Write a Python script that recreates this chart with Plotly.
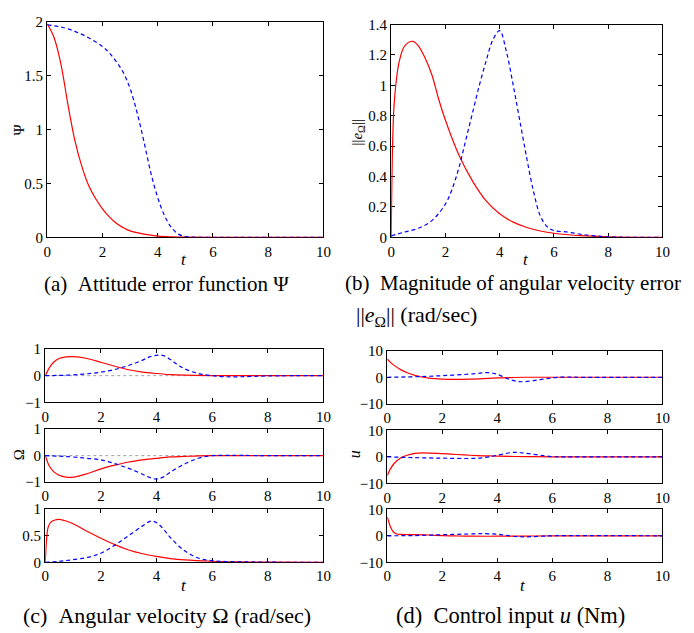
import plotly.graph_objects as go

W, H = 694, 633

# ---------------- data ----------------
# (a) attitude error function Psi
psi_red_t = [0, 0.25, 0.5, 0.75, 1.0, 1.25, 1.5, 1.75, 2.0, 2.25, 2.5, 2.75, 3.0, 3.5, 4.0, 4.5, 5.0, 6.0, 8.0, 10.0]
psi_red_v = [1.98, 1.85, 1.60, 1.23, 0.90, 0.66, 0.48, 0.36, 0.265, 0.19, 0.13, 0.09, 0.06, 0.03, 0.012, 0.005, 0.002, 0, 0, 0]
psi_blue_t = [0, 0.5, 1.0, 1.5, 2.0, 2.25, 2.5, 2.75, 3.0, 3.25, 3.5, 3.75, 4.0, 4.25, 4.5, 4.75, 5.0, 5.5, 6.0, 8.0, 10.0]
psi_blue_v = [1.97, 1.95, 1.91, 1.85, 1.77, 1.71, 1.63, 1.53, 1.38, 1.16, 0.89, 0.60, 0.37, 0.20, 0.09, 0.03, 0.008, 0, 0, 0, 0]

# (b) magnitude of angular velocity error
eo_red_t = [0, 0.05, 0.1, 0.2, 0.3, 0.5, 0.8, 1.0, 1.25, 1.5, 1.75, 2.0, 2.5, 3.0, 3.5, 4.0, 4.5, 5.0, 5.5, 6.0, 7.0, 8.0, 10.0]
eo_red_v = [0, 0.6, 0.85, 1.05, 1.16, 1.26, 1.29, 1.26, 1.18, 1.07, 0.91, 0.77, 0.54, 0.37, 0.24, 0.155, 0.10, 0.065, 0.042, 0.027, 0.011, 0.004, 0]
eo_blue_t = [0, 0.5, 1.0, 1.5, 2.0, 2.25, 2.5, 2.75, 3.0, 3.25, 3.5, 3.75, 4.0, 4.25, 4.5, 4.75, 5.0, 5.25, 5.5, 5.75, 6.0, 6.5, 7.0, 7.5, 8.0, 10.0]
eo_blue_v = [0.01, 0.035, 0.06, 0.11, 0.22, 0.32, 0.46, 0.64, 0.82, 1.0, 1.16, 1.30, 1.36, 1.22, 1.0, 0.76, 0.52, 0.30, 0.14, 0.07, 0.045, 0.035, 0.02, 0.01, 0.003, 0]

# (c) angular velocity components
w1_red_t = [0, 0.15, 0.3, 0.5, 0.75, 1.0, 1.5, 2.0, 2.5, 3.0, 3.5, 4.0, 4.5, 5.0, 6.0, 7.0, 10.0]
w1_red_v = [0, 0.3, 0.5, 0.64, 0.70, 0.71, 0.64, 0.50, 0.35, 0.22, 0.13, 0.08, 0.04, 0.02, 0.005, 0, 0]
w1_blue_t = [0, 0.5, 1.0, 1.5, 2.0, 2.5, 3.0, 3.5, 3.75, 4.0, 4.25, 4.5, 4.75, 5.0, 5.5, 6.0, 6.5, 7.0, 8.0, 10.0]
w1_blue_v = [0, 0.01, 0.03, 0.07, 0.13, 0.23, 0.38, 0.58, 0.70, 0.76, 0.75, 0.60, 0.42, 0.26, 0.08, 0.0, -0.04, -0.04, -0.01, 0]

w2_red_t = [0, 0.15, 0.3, 0.5, 0.75, 1.0, 1.5, 2.0, 2.5, 3.0, 3.5, 4.0, 4.5, 5.0, 5.5, 6.0, 10.0]
w2_red_v = [0, -0.4, -0.6, -0.74, -0.81, -0.81, -0.68, -0.50, -0.36, -0.24, -0.16, -0.10, -0.05, -0.03, -0.01, 0, 0]
w2_blue_t = [0, 0.5, 1.0, 1.5, 2.0, 2.5, 3.0, 3.5, 3.75, 4.0, 4.25, 4.5, 5.0, 5.5, 6.0, 6.5, 7.0, 8.0, 10.0]
w2_blue_v = [0, -0.02, -0.05, -0.10, -0.16, -0.30, -0.48, -0.70, -0.82, -0.88, -0.80, -0.62, -0.32, -0.10, 0.0, 0.01, 0.01, 0, 0]

w3_red_t = [0, 0.05, 0.1, 0.2, 0.35, 0.5, 0.75, 1.0, 1.5, 2.0, 2.5, 3.0, 3.5, 4.0, 4.5, 5.0, 6.0, 7.0, 8.0, 10.0]
w3_red_v = [0, 0.45, 0.65, 0.75, 0.79, 0.80, 0.77, 0.72, 0.58, 0.45, 0.33, 0.23, 0.16, 0.11, 0.07, 0.045, 0.02, 0.008, 0.002, 0]
w3_blue_t = [0, 0.5, 1.0, 1.5, 2.0, 2.5, 3.0, 3.5, 3.8, 4.0, 4.25, 4.5, 5.0, 5.5, 6.0, 6.5, 7.0, 8.0, 10.0]
w3_blue_v = [0, 0.02, 0.05, 0.09, 0.17, 0.32, 0.50, 0.68, 0.77, 0.74, 0.62, 0.46, 0.22, 0.08, 0.03, 0.015, 0.01, 0.003, 0]

# (d) control input components
u1_red_t = [0, 0.1, 0.25, 0.5, 0.75, 1.0, 1.25, 1.5, 2.0, 2.5, 3.0, 3.5, 4.0, 4.5, 5.0, 6.0, 10.0]
u1_red_v = [7, 5.8, 4.5, 2.8, 1.6, 0.7, 0.1, -0.3, -0.7, -0.8, -0.7, -0.5, -0.25, -0.1, 0, 0, 0]
u1_blue_t = [0, 1.0, 2.0, 3.0, 3.5, 3.75, 4.0, 4.25, 4.5, 4.75, 5.0, 5.5, 6.0, 6.5, 7.0, 10.0]
u1_blue_v = [0, 0.2, 0.6, 1.2, 1.7, 1.7, 1.1, 0.0, -1.0, -1.6, -1.65, -1.0, -0.2, 0.1, 0, 0]

u2_red_t = [0, 0.1, 0.25, 0.5, 0.75, 1.0, 1.3, 2.0, 2.5, 3.0, 3.5, 4.0, 5.0, 6.0, 10.0]
u2_red_v = [-7, -4.8, -2.5, -0.3, 0.7, 1.3, 1.5, 1.2, 0.9, 0.6, 0.4, 0.25, 0.1, 0.0, 0]
u2_blue_t = [0, 1.0, 2.0, 3.0, 3.5, 4.0, 4.5, 4.75, 5.0, 5.5, 6.0, 6.5, 10.0]
u2_blue_v = [0, -0.3, -0.5, -0.6, -0.3, 0.6, 1.6, 1.7, 1.4, 0.7, 0.1, 0, 0]

u3_red_t = [0, 0.05, 0.1, 0.2, 0.3, 0.4, 0.6, 1.0, 1.5, 2.0, 2.5, 3.0, 4.0, 5.0, 6.0, 10.0]
u3_red_v = [7, 5.5, 3.8, 1.8, 0.9, 0.6, 0.5, 0.45, 0.3, 0.1, -0.05, -0.15, -0.15, -0.1, 0, 0]
u3_blue_t = [0, 1.0, 2.0, 3.0, 3.5, 4.0, 4.5, 5.0, 5.5, 6.0, 10.0]
u3_blue_v = [0, 0.1, 0.4, 0.7, 0.8, 0.6, -0.1, -0.4, -0.2, 0, 0]

x_ticks = [0, 2, 4, 6, 8, 10]
a_yticks = [0, 0.5, 1, 1.5, 2]
a_ylabels = ["0", "0.5", "1", "1.5", "2"]
b_yticks = [0, 0.2, 0.4, 0.6, 0.8, 1.0, 1.2, 1.4]
b_ylabels = ["0", "0.2", "0.4", "0.6", "0.8", "1", "1.2", "1.4"]
c_yticks = [-1, 0, 1]
c3_yticks = [0, 0.5, 1]
c3_ylabels = ["0", "0.5", "1"]
d_yticks = [-10, 0, 10]

EN = "\u2002"
captions = {
    "a": "(a)" + EN + "Attitude error function Ψ",
    "b1": "(b)" + EN + "Magnitude of angular velocity error",
    "b2": "||<i>e</i><sub>Ω</sub>|| (rad/sec)",
    "c": "(c)" + EN + "Angular velocity Ω (rad/sec)",
    "d": "(d)" + EN + "Control input <i>u</i> (Nm)",
}

# ---------------- layout helpers ----------------
FONT = "Liberation Serif, Times New Roman, DejaVu Serif, serif"
RED = "#ff0000"
BLUE = "#0000ff"


def xd(l, r):
    return [l / W, r / W]


def yd(t, b):
    return [1 - b / H, 1 - t / H]


boxes = {
    1: (44, 325, 14, 235.3),
    2: (394, 670, 17, 235.3),
    3: (42, 325, 349.7, 404.7),
    4: (42, 325, 432, 486.5),
    5: (42, 325, 513.7, 568.7),
    6: (390, 670, 351.7, 406),
    7: (390, 670, 433.3, 487.7),
    8: (390, 670, 514.3, 568.7),
}

yspec = {
    1: ([0, 2], a_yticks, a_ylabels),
    2: ([0, 1.4], b_yticks, b_ylabels),
    3: ([-1, 1], c_yticks, None),
    4: ([-1, 1], c_yticks, None),
    5: ([0, 1], c3_yticks, c3_ylabels),
    6: ([-10, 10], d_yticks, None),
    7: ([-10, 10], d_yticks, None),
    8: ([-10, 10], d_yticks, None),
}

series = {
    1: [(psi_red_t, psi_red_v), (psi_blue_t, psi_blue_v)],
    2: [(eo_red_t, eo_red_v), (eo_blue_t, eo_blue_v)],
    3: [(w1_red_t, w1_red_v), (w1_blue_t, w1_blue_v)],
    4: [(w2_red_t, w2_red_v), (w2_blue_t, w2_blue_v)],
    5: [(w3_red_t, w3_red_v), (w3_blue_t, w3_blue_v)],
    6: [(u1_red_t, u1_red_v), (u1_blue_t, u1_blue_v)],
    7: [(u2_red_t, u2_red_v), (u2_blue_t, u2_blue_v)],
    8: [(u3_red_t, u3_red_v), (u3_blue_t, u3_blue_v)],
}

fig = go.Figure()
layout = dict(
    width=W, height=H,
    margin=dict(l=0, r=0, t=0, b=0),
    paper_bgcolor="white", plot_bgcolor="white",
    showlegend=False,
    font=dict(family=FONT, size=15, color="black"),
)

tickfont = dict(family=FONT, size=15, color="black")

for k in range(1, 9):
    sfx = "" if k == 1 else str(k)
    xa, ya = "x" + sfx, "y" + sfx
    l, r, t, b = boxes[k]
    yr, yt, yl = yspec[k]
    common = dict(
        showline=True, linecolor="black", linewidth=1.3, mirror="allticks",
        ticks="inside", ticklen=4, tickwidth=1, tickcolor="black",
        showgrid=False, zeroline=False, tickfont=tickfont,
        layer="below traces",
    )
    layout["xaxis" + sfx] = dict(domain=xd(l, r), range=[0, 10], tickvals=x_ticks,
                                 anchor=ya, **common)
    yax = dict(domain=yd(t, b), range=yr, tickvals=yt, anchor=xa, **common)
    if yl is not None:
        yax["ticktext"] = yl
    layout["yaxis" + sfx] = yax

    if k in (3, 4):
        fig.add_trace(go.Scatter(x=[0, 10], y=[0, 0], mode="lines", xaxis=xa, yaxis=ya,
                                 line=dict(color="#a0a0a0", width=1, dash="dot"),
                                 hoverinfo="skip"))
    (rt, rv), (bt, bv) = series[k]
    fig.add_trace(go.Scatter(x=rt, y=rv, mode="lines", xaxis=xa, yaxis=ya,
                             line=dict(color=RED, width=1.2, shape="spline", smoothing=1.0)))
    fig.add_trace(go.Scatter(x=bt, y=bv, mode="lines", xaxis=xa, yaxis=ya,
                             line=dict(color=BLUE, width=1.2, shape="spline", smoothing=1.0,
                                       dash="4px,3px")))

fig.update_layout(**layout)


def ann(text, x, y, size=17, angle=0, xanchor="center", yanchor="middle"):
    fig.add_annotation(text=text, x=x / W, y=1 - y / H, xref="paper", yref="paper",
                       showarrow=False, textangle=angle, xanchor=xanchor, yanchor=yanchor,
                       font=dict(family=FONT, size=size, color="black"))


# axis labels
ann("Ψ", 15, 125, size=15, angle=-90)
ann("<i>t</i>", 183, 258, size=17)
ann("||<i>e</i><sub>Ω</sub>||", 360, 127, size=15, angle=-90)
ann("<i>t</i>", 531, 258, size=17)
ann("Ω", 16, 458, size=15, angle=-90)
ann("<i>t</i>", 183, 592, size=17)
ann("<i>u</i>", 357, 458, size=16, angle=-90)
ann("<i>t</i>", 528, 592, size=17)

# captions
ann(captions["a"], 165, 283, size=21)
ann(captions["b1"], 345, 282, size=21, xanchor="left")
ann(captions["b2"], 356, 316, size=22, xanchor="left")
ann(captions["c"], 166, 623, size=22)
ann(captions["d"], 515, 623, size=22.5)

fig.write_html("out.html", config={"displayModeBar": False},
               post_script="document.body.style.margin='0';")
